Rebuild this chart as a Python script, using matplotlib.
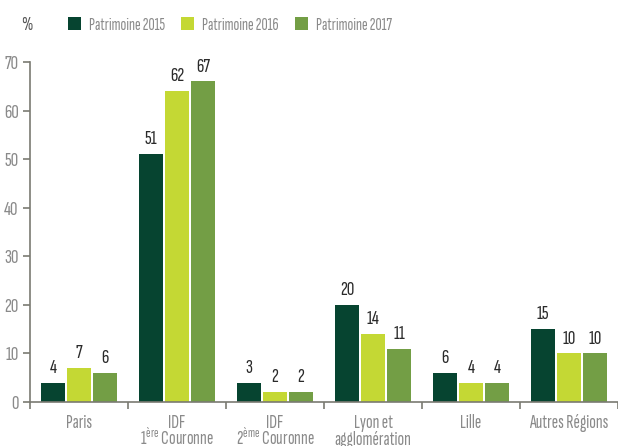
import matplotlib

matplotlib.use("Agg")
import matplotlib.pyplot as plt  # noqa: E402
from matplotlib.patches import Patch  # noqa: E402
import numpy as np  # noqa: E402

FONT = ["Sofia Sans Extra Condensed", "DejaVu Sans"]
plt.rcParams["font.family"] = FONT
plt.rcParams["mathtext.fontset"] = "custom"
plt.rcParams["mathtext.rm"] = "Sofia Sans Extra Condensed:weight=light"

categories = ["Paris", "IDF\n1$^{\\rm ère}$ Couronne", "IDF\n2$^{\\rm ème}$ Couronne",
              "Lyon et\nagglomération", "Lille", "Autres Régions"]
series = ["Patrimoine 2015", "Patrimoine 2016", "Patrimoine 2017"]
# bar heights as drawn in the source, and the printed labels (they differ a bit)
h2015 = [4, 51, 4, 20, 6, 15]
h2016 = [7, 64, 2, 14, 4, 10]
h2017 = [6, 66, 2, 11, 4, 10]
lab2015 = [4, 51, 3, 20, 6, 15]
lab2016 = [7, 62, 2, 14, 4, 10]
lab2017 = [6, 67, 2, 11, 4, 10]
colors = ["#064430", "#c4d834", "#739e45"]

GREY = "#8a8a8a"
AXC = "#7a7a72"

fig = plt.figure(figsize=(6.18, 4.46), dpi=100)
ax = fig.add_axes([30 / 618, 44 / 446, 588 / 618, 340 / 446])

x = np.arange(len(categories))
w = 24 / 98
step = 26 / 98
for i, (h, lab, c) in enumerate(zip([h2015, h2016, h2017], [lab2015, lab2016, lab2017], colors)):
    xs = x + (i - 1) * step
    ax.bar(xs, h, width=w, color=c, zorder=2)
    for xi, hi, li in zip(xs, h, lab):
        ax.text(xi, hi + 1.2, str(li), ha="center", va="bottom", fontsize=15,
                fontweight="bold", color="#2a2a2a")

ax.set_xlim(-0.5, len(categories) - 0.5)
ax.set_ylim(0, 70)
ax.set_yticks(range(0, 71, 10))
ax.set_yticklabels([str(v) for v in range(0, 71, 10)], fontweight="light")
ax.tick_params(axis="y", colors=AXC, labelcolor=GREY, labelsize=15, length=5, width=1.2, pad=3)
ax.set_xticks(np.arange(len(categories) + 1) - 0.5)
ax.set_xticklabels([])
ax.tick_params(axis="x", colors=AXC, length=5, width=1.2)
# category names, one text per line (second line may carry a superscript)
for xi, cat in zip(x, categories):
    for j, line in enumerate(cat.split("\n")):
        ax.text(xi, -5.35 - j * 3.5, line, ha="center", va="baseline", fontsize=14,
                color=GREY, fontweight="light")

for s in ["top", "right"]:
    ax.spines[s].set_visible(False)
for s in ["left", "bottom"]:
    ax.spines[s].set_color(AXC)
    ax.spines[s].set_linewidth(1.2)

fig.text(21 / 618, 1 - 25 / 446, "%", fontsize=14, color="#555555", va="center",
         fontweight="medium")
handles = [Patch(facecolor=c, edgecolor="none") for c in colors]
fig.legend(handles, series, loc="center left", bbox_to_anchor=(68 / 618, 1 - 25 / 446),
           ncol=3, frameon=False, prop={"size": 12.5, "weight": "light"}, labelcolor=GREY,
           handlelength=0.75, handleheight=0.75, handletextpad=0.45, columnspacing=0.95,
           borderpad=0, borderaxespad=0)

fig.savefig("out.png", dpi=100)
